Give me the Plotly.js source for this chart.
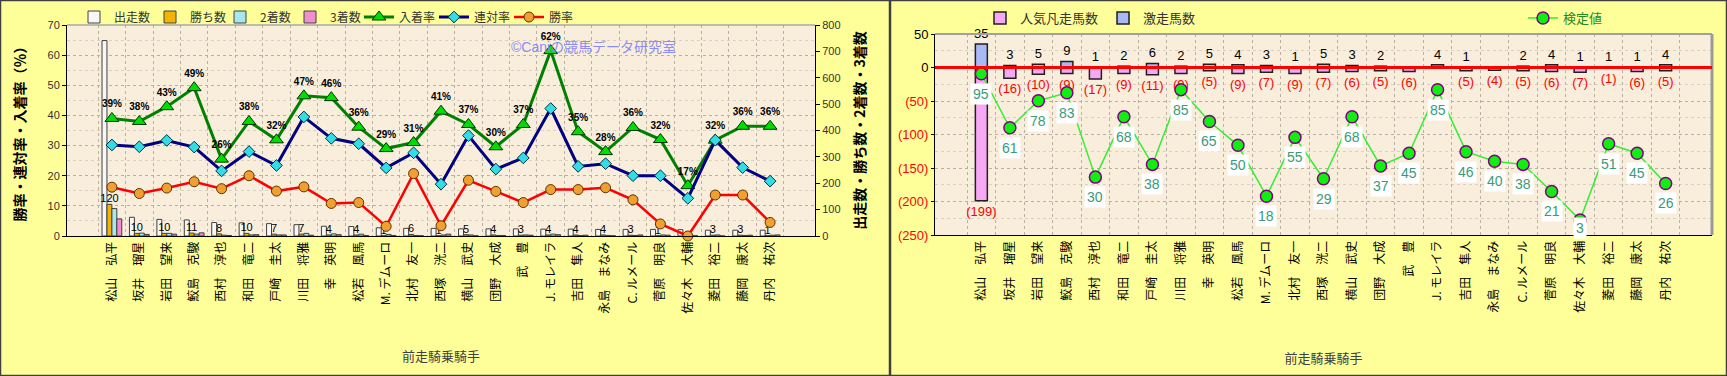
<!DOCTYPE html>
<html><head><meta charset="utf-8">
<script src="https://cdn.plot.ly/plotly-3.0.1.min.js"></script>
<style>html,body{margin:0;padding:0;background:#ffff99;} #chart{width:1727px;height:376px;}</style>
</head><body><div id="chart"></div>
<script>
// ---------- data ----------
const jockeys = ["松山　弘平","坂井　瑠星","岩田　望来","鮫島　克駿","西村　淳也","和田　竜二","戸崎　圭太","川田　将雅","幸　英明","松若　風馬","M. デムーロ","北村　友一","西塚　洸二","横山　武史","団野　大成","武　豊","J. モレイラ","吉田　隼人","永島　まなみ","C. ルメール","菅原　明良","佐々木　大輔","菱田　裕二","藤岡　康太","丹内　祐次"];
const starts  = [741,71,63,61,51,50,47,43,37,36,31,29,29,27,27,27,26,26,25,25,25,24,22,22,22];
const wins    = [120,10,10,11,8,10,7,7,4,4,1,6,1,5,4,3,4,4,4,3,1,0,3,3,1];
const seconds = [104,11,10,7,3,4,4,10,8,7,6,2,4,4,2,4,7,2,2,2,4,3,4,2,3];
const thirds  = [65,6,7,12,2,5,4,3,5,2,2,1,7,1,2,3,5,3,1,4,3,1,0,3,4];
const placeRate = [39.0,38.0,42.9,49.2,25.5,38.0,31.9,46.5,45.9,36.1,29.0,31.0,41.4,37.0,29.6,37.0,61.5,34.6,28.0,36.0,32.0,16.7,31.8,36.4,36.4];
const quinellaRate = [30.2,29.6,31.7,29.5,21.6,28.0,23.4,39.5,32.4,30.6,22.6,27.6,17.2,33.3,22.2,25.9,42.3,23.1,24.0,20.0,20.0,12.5,31.8,22.7,18.2];
const winRate = [16.2,14.1,15.9,18.0,15.7,20.0,14.9,16.3,10.8,11.1,3.2,20.7,3.4,18.5,14.8,11.1,15.4,15.4,16.0,12.0,4.0,0.0,13.6,13.6,4.5];
const gekisou = [35,3,5,9,1,2,6,2,5,4,3,1,5,3,2,0,4,1,0,2,4,1,1,1,4];
const bonsou  = [199,16,10,9,17,9,11,9,5,9,7,9,7,6,5,6,0,5,4,5,6,7,1,6,5];
const kentei  = [95,61,78,83,30,68,38,85,65,50,18,55,29,68,37,45,85,46,40,38,21,3,51,45,26];
const pctTicks = [0,10,20,30,40,50,60,70];
const cntTicks = [0,100,200,300,400,500,600,700,800];
const rightTicks = [50,0,-50,-100,-150,-200,-250];

// ---------- layout helpers ----------
const W = 1727, H = 376;
const px = v => v / W, py = v => 1 - v / H;
const FONT = 'Liberation Sans, Arial, Noto Sans CJK JP, sans-serif';
const JP = 'Noto Sans CJK JP, sans-serif';
const barLine = {color:'#404040', width:1};
const grid = '#b9b2a4';

const traces = [
  {type:'bar', name:'出走数', x:jockeys, y:starts, xaxis:'x', yaxis:'y', legend:'legend',
   marker:{color:'#f7f7f7', line:barLine}},
  {type:'bar', name:'勝ち数', x:jockeys, y:wins, xaxis:'x', yaxis:'y', legend:'legend2',
   marker:{color:'#f2b400', line:barLine},
   text: wins.map(v => v > 0 ? String(v) : ''), textposition:'outside', constraintext:'none',
   textfont:{family:FONT, size:11, color:'#000'}, cliponaxis:false},
  {type:'bar', name:'2着数', x:jockeys, y:seconds, xaxis:'x', yaxis:'y', legend:'legend3',
   marker:{color:'#a8e6f0', line:barLine}},
  {type:'bar', name:'3着数', x:jockeys, y:thirds, xaxis:'x', yaxis:'y', legend:'legend4',
   marker:{color:'#f08fcf', line:barLine}},
  {type:'scatter', mode:'lines+markers+text', name:'入着率', x:jockeys, y:placeRate, xaxis:'x', yaxis:'y2', legend:'legend5',
   line:{color:'#008000', width:3}, marker:{symbol:'triangle-up', size:12, color:'#00dd00', line:{color:'#003300', width:1}},
   text: placeRate.map(v => Math.round(v) + '%'), textposition:'top center',
   textfont:{family:FONT, size:10, color:'#000', weight:'bold'}, cliponaxis:false},
  {type:'scatter', mode:'lines+markers', name:'連対率', x:jockeys, y:quinellaRate, xaxis:'x', yaxis:'y2', legend:'legend6',
   line:{color:'#000080', width:3}, marker:{symbol:'diamond', size:9, color:'#33dde6', line:{color:'#003040', width:1}}, cliponaxis:false},
  {type:'scatter', mode:'lines+markers', name:'勝率', x:jockeys, y:winRate, xaxis:'x', yaxis:'y2', legend:'legend7',
   line:{color:'#ff0000', width:2.5}, marker:{symbol:'circle', size:10, color:'#f0a030', line:{color:'#603000', width:1}}, cliponaxis:false},
  // right panel
  {type:'bar', name:'人気凡走馬数', x:jockeys, y:bonsou.map(v => -v), xaxis:'x2', yaxis:'y3', legend:'legend8',
   offsetgroup:'r', width:0.42, marker:{color:'#f7a8f5', line:{color:'#202020', width:1.5}},
   text: bonsou.map(v => v > 0 ? '(' + v + ')' : ''), textposition:'outside', constraintext:'none',
   textfont:{family:FONT, size:13, color:'#ff0000'}, cliponaxis:false},
  {type:'bar', name:'激走馬数', x:jockeys, y:gekisou, xaxis:'x2', yaxis:'y3', legend:'legend8',
   offsetgroup:'r', width:0.42, marker:{color:'#a9b9f6', line:{color:'#202020', width:1.5}},
   text: gekisou.map(v => v > 0 ? String(v) : ''), textposition:'outside', constraintext:'none',
   textfont:{family:FONT, size:13, color:'#000'}, cliponaxis:false},
  {type:'scatter', mode:'lines+markers', name:'検定値', x:jockeys, y:kentei, xaxis:'x2', yaxis:'y4', legend:'legend9',
   line:{color:'#33ee33', width:1.5}, marker:{symbol:'circle', size:12, color:'#11ee11', line:{color:'#800080', width:1.5}}, cliponaxis:false}
];

const annotations = kentei.map((v, i) => ({
  xref:'x2', yref:'y4', x:jockeys[i], y:v, text:String(v), showarrow:false,
  yshift: v < 10 ? -8 : -20, bgcolor:'#ffffff', borderpad:2,
  font:{family:FONT, size:14, color:'#3a9a78'}
}));
annotations.push({xref:'paper', yref:'paper', x:px(593), y:py(37), text:'©Caniの競馬データ研究室', showarrow:false,
  font:{family:FONT, size:14, color:'#8c8cf2'}});

const xCommon = {type:'category', tickson:'boundaries', showgrid:true, gridcolor:grid, griddash:'dot', gridwidth:1,
  tickangle:-90, tickfont:{family:JP, size:12, color:'#000'}, ticks:'', showline:true, linecolor:'#000', linewidth:1,
  automargin:false};

const legBase = {xanchor:'left', yanchor:'middle', orientation:'h', traceorder:'normal', bgcolor:'rgba(0,0,0,0)'};
const leftLegX = [74,150,220,290,359,434,509];
const leg = {};
leftLegX.forEach((x, i) => {
  leg[i === 0 ? 'legend' : 'legend' + (i + 1)] = Object.assign({}, legBase,
    {x:px(x), y:py(17), font:{family:JP, size:12, color:'#333'}});
});
leg.legend8 = Object.assign({}, legBase, {x:px(980), y:py(18), font:{family:JP, size:13, color:'#333'}});
leg.legend9 = Object.assign({}, legBase, {x:px(1523), y:py(18), font:{family:JP, size:13, color:'#1f8a1f'}});

const layout = Object.assign({
  width:W, height:H, margin:{l:0,r:0,t:0,b:0}, autosize:false,
  paper_bgcolor:'#ffff99', plot_bgcolor:'#f8eedb',
  barmode:'group', bargap:0.28, bargroupgap:0, showlegend:true, hovermode:false,
  font:{family:FONT},
  xaxis: Object.assign({}, xCommon, {domain:[px(67), px(815)], anchor:'y',
    title:{text:'前走騎乗騎手', font:{family:JP, size:13, color:'#404040'}, standoff:39}}),
  yaxis: {domain:[py(236), py(25)], range:[0,800], side:'right', tickvals:cntTicks, showgrid:false, zeroline:false,
    showline:true, linecolor:'#000', ticks:'outside', ticklen:4, tickcolor:'#000',
    tickfont:{family:FONT, size:11, color:'#333'}, anchor:'x', automargin:false,
    title:{text:'出走数・勝ち数・2着数・3着数', font:{family:JP, size:14, color:'#000', weight:'bold'}, standoff:15}},
  yaxis2: {domain:[py(236), py(25)], range:[0,70], overlaying:'y', side:'left', anchor:'x', tickvals:pctTicks, ticksuffix:'%',
    showgrid:true, gridcolor:grid, griddash:'dot', zeroline:false,
    minor:{dtick:5, showgrid:true, gridcolor:'#d9d1c2', griddash:'dot'},
    showline:true, linecolor:'#000', ticks:'outside', ticklen:4, tickcolor:'#000',
    tickfont:{family:FONT, size:11, color:'#333'}, automargin:false,
    title:{text:'勝率・連対率・入着率（％）', font:{family:JP, size:14, color:'#000', weight:'bold'}, standoff:18}},
  xaxis2: Object.assign({}, xCommon, {domain:[px(935), px(1712)], anchor:'y3',
    title:{text:'前走騎乗騎手', font:{family:JP, size:13, color:'#404040'}, standoff:42}}),
  yaxis3: {domain:[py(235), py(34)], range:[-250,50], anchor:'x2', tickvals:rightTicks,
    ticktext: rightTicks.map(v => v < 0 ? '<span style="color:#ff0000">(' + (-v) + ')</span>' : String(v)),
    showgrid:true, gridcolor:grid, griddash:'dot', zeroline:false,
    minor:{dtick:25, showgrid:true, gridcolor:'#d9d1c2', griddash:'dot'},
    showline:true, linecolor:'#000', ticks:'outside', ticklen:3, tickcolor:'#000',
    tickfont:{family:FONT, size:13, color:'#000'}, automargin:false},
  yaxis4: {domain:[py(235), py(34)], range:[-6.4,120], overlaying:'y3', anchor:'x2', visible:false},
  annotations: annotations,
  shapes: [
    {type:'line', xref:'x domain', yref:'y domain', x0:0, x1:1, y0:1, y1:1, line:{color:'#a8a8a8', width:1.5}},
    {type:'line', xref:'x2 domain', yref:'y3 domain', x0:0, x1:1, y0:1, y1:1, line:{color:'#a0a0a0', width:2}},
    {type:'line', xref:'x2 domain', yref:'y3 domain', x0:1, x1:1, y0:0, y1:1, line:{color:'#9a9a9a', width:3}},
    {type:'line', xref:'x2 domain', yref:'y3', x0:0, x1:1, y0:0, y1:0, line:{color:'#ff0000', width:3}, layer:'above'},
    {type:'rect', xref:'paper', yref:'paper', x0:0, x1:1, y0:0, y1:1, line:{color:'#404040', width:2.5}},
    {type:'line', xref:'paper', yref:'paper', x0:px(890), x1:px(890), y0:0, y1:1, line:{color:'#404040', width:2.5}}
  ]
}, leg);

Plotly.newPlot('chart', traces, layout, {staticPlot:true, displayModeBar:false});
</script></body></html>
